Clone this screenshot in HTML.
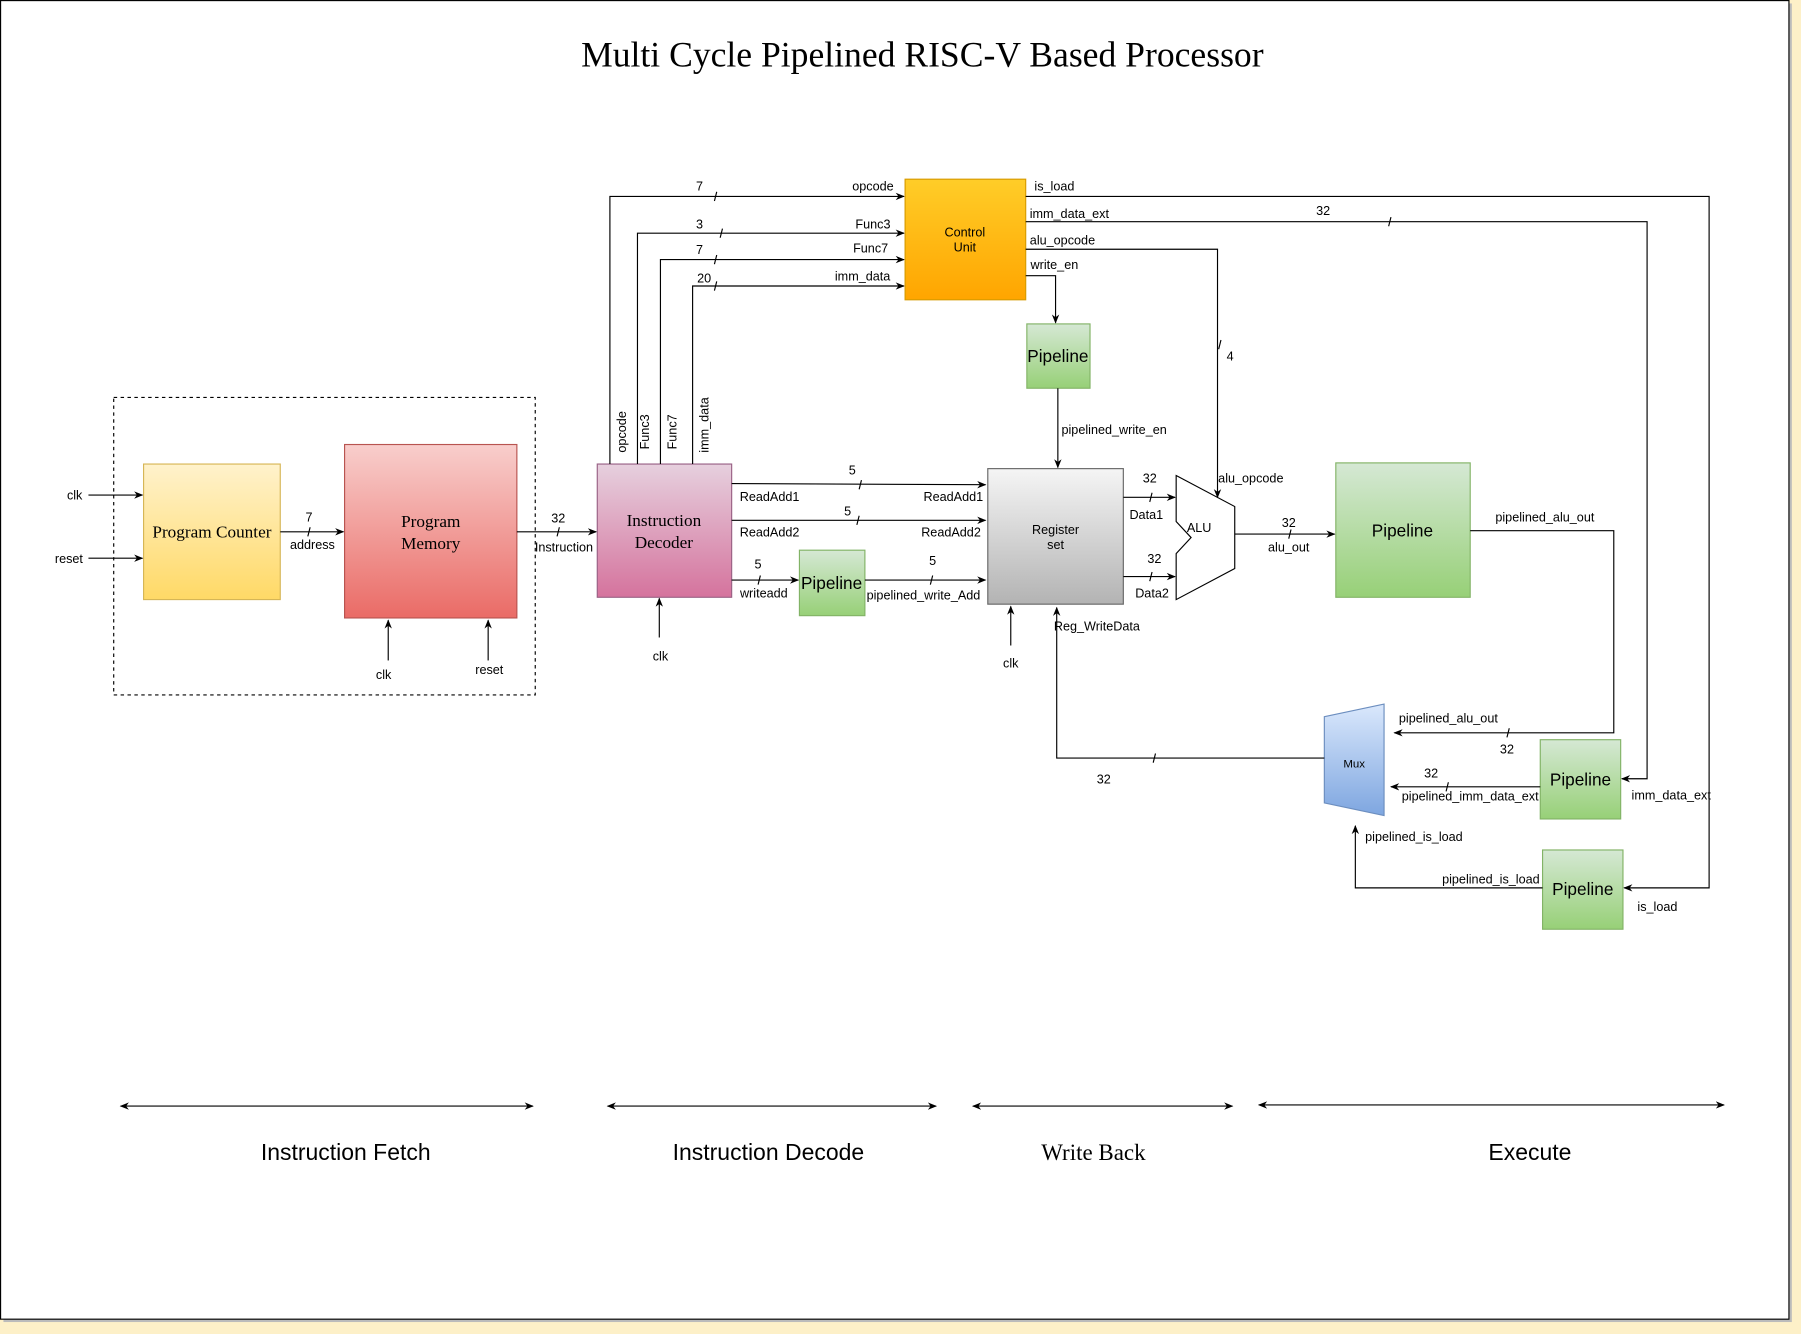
<!DOCTYPE html>
<html><head><meta charset="utf-8"><style>
html,body{margin:0;padding:0;background:#fdf0c8;}
svg{display:block;}
text{font-family:"Liberation Sans",sans-serif;font-size:11px;fill:#000;}
.s{font-family:"Liberation Serif",serif;}
</style></head><body>
<svg width="1801" height="1334" viewBox="0 0 1568 1161.4" xmlns="http://www.w3.org/2000/svg">
<defs>
<linearGradient id="gy" x1="0" y1="0" x2="0" y2="1"><stop offset="0" stop-color="#fff2cc"/><stop offset="1" stop-color="#ffd966"/></linearGradient>
<linearGradient id="gr" x1="0" y1="0" x2="0" y2="1"><stop offset="0" stop-color="#f8cecc"/><stop offset="1" stop-color="#ea6b66"/></linearGradient>
<linearGradient id="gp" x1="0" y1="0" x2="0" y2="1"><stop offset="0" stop-color="#e6d0de"/><stop offset="1" stop-color="#d5739d"/></linearGradient>
<linearGradient id="go" x1="0" y1="0" x2="0" y2="1"><stop offset="0" stop-color="#ffcd28"/><stop offset="1" stop-color="#ffa500"/></linearGradient>
<linearGradient id="gg" x1="0" y1="0" x2="0" y2="1"><stop offset="0" stop-color="#d5e8d4"/><stop offset="1" stop-color="#97d077"/></linearGradient>
<linearGradient id="gs" x1="0" y1="0" x2="0" y2="1"><stop offset="0" stop-color="#f5f5f5"/><stop offset="1" stop-color="#b3b3b3"/></linearGradient>
<linearGradient id="gb" x1="0" y1="0" x2="0" y2="1"><stop offset="0" stop-color="#dae8fc"/><stop offset="1" stop-color="#7ea6e0"/></linearGradient>
<marker id="a" viewBox="0 0 10 10" refX="9" refY="5" markerWidth="8" markerHeight="8" orient="auto-start-reverse"><path d="M0,1 L10,5 L0,9 L3,5 z" fill="#000"/></marker>
</defs>
<rect x="3" y="3" width="1557" height="1148" fill="#bbb"/>
<rect x="0.5" y="0.5" width="1557" height="1148" fill="#fff" stroke="#000" stroke-width="1"/>
<text x="803" y="58" class="s" style="font-size:31px" text-anchor="middle">Multi Cycle Pipelined RISC-V Based Processor</text>

<rect x="99" y="346" width="367" height="259" fill="none" stroke="#000" stroke-dasharray="3,3"/>
<rect x="125" y="404" width="119" height="118" fill="url(#gy)" stroke="#d6b656"/>
<text x="184.5" y="468" class="s" style="font-size:15px" text-anchor="middle">Program Counter</text>
<rect x="300" y="387" width="150" height="151" fill="url(#gr)" stroke="#b85450"/>
<text x="375" y="459" class="s" style="font-size:15px" text-anchor="middle">Program</text>
<text x="375" y="478" class="s" style="font-size:15px" text-anchor="middle">Memory</text>
<rect x="520" y="404" width="117" height="116" fill="url(#gp)" stroke="#996185"/>
<text x="578" y="458" class="s" style="font-size:15px" text-anchor="middle">Instruction</text>
<text x="578" y="477" class="s" style="font-size:15px" text-anchor="middle">Decoder</text>
<rect x="788" y="156" width="105" height="105" fill="url(#go)" stroke="#d79b00"/>
<text x="840" y="206" text-anchor="middle">Control</text>
<text x="840" y="219" text-anchor="middle">Unit</text>
<rect x="894" y="282" width="55" height="56" fill="url(#gg)" stroke="#82b366"/>
<text x="921" y="315" style="font-size:15px" text-anchor="middle">Pipeline</text>
<rect x="860" y="408" width="118" height="118" fill="url(#gs)" stroke="#666"/>
<text x="919" y="465" text-anchor="middle">Register</text>
<text x="919" y="478" text-anchor="middle">set</text>
<path d="M1024,414 L1075,441 L1075,495 L1024,522 L1024,482 L1037,468 L1024,454 Z" fill="#fff" stroke="#000"/>
<text x="1044" y="463" text-anchor="middle">ALU</text>
<rect x="1163" y="403" width="117" height="117" fill="url(#gg)" stroke="#82b366"/>
<text x="1221" y="467" style="font-size:15px" text-anchor="middle">Pipeline</text>
<rect x="696" y="479" width="57" height="57" fill="url(#gg)" stroke="#82b366"/>
<text x="724" y="513" style="font-size:15px" text-anchor="middle">Pipeline</text>
<rect x="1341" y="644" width="70" height="69" fill="url(#gg)" stroke="#82b366"/>
<text x="1376" y="684" style="font-size:15px" text-anchor="middle">Pipeline</text>
<rect x="1343" y="740" width="70" height="69" fill="url(#gg)" stroke="#82b366"/>
<text x="1378" y="779" style="font-size:15px" text-anchor="middle">Pipeline</text>
<path d="M1153,624 L1205,613 L1205,710 L1153,699 Z" fill="url(#gb)" stroke="#6c8ebf"/>
<text x="1179" y="668" style="font-size:10px" text-anchor="middle">Mux</text>

<g stroke="#000" fill="none" stroke-width="1">
<path d="M77,431 H124" marker-end="url(#a)"/>
<path d="M77,486 H124" marker-end="url(#a)"/>
<path d="M244,463 H299" marker-end="url(#a)"/>
<path d="M450,463 H519" marker-end="url(#a)"/>
<path d="M338,575 V540" marker-end="url(#a)"/>
<path d="M425,575 V540" marker-end="url(#a)"/>
<path d="M574,555 V521" marker-end="url(#a)"/>
<path d="M531,404 V171 H787" marker-end="url(#a)"/>
<path d="M555,404 V203 H787" marker-end="url(#a)"/>
<path d="M575,404 V226 H787" marker-end="url(#a)"/>
<path d="M603,404 V249 H787" marker-end="url(#a)"/>
<path d="M893,171 H1488 V773 H1414" marker-end="url(#a)"/>
<path d="M893,193 H1434 V678 H1412" marker-end="url(#a)"/>
<path d="M893,217 H1060 V433" marker-end="url(#a)"/>
<path d="M893,240 H919 V281" marker-end="url(#a)"/>
<path d="M921,338 V407" marker-end="url(#a)"/>
<path d="M637,421 L858,422" marker-end="url(#a)"/>
<path d="M637,453 H858" marker-end="url(#a)"/>
<path d="M637,505 H695" marker-end="url(#a)"/>
<path d="M753,505 H858" marker-end="url(#a)"/>
<path d="M880,562 V528" marker-end="url(#a)"/>
<path d="M978,433 H1023" marker-end="url(#a)"/>
<path d="M978,502 H1023" marker-end="url(#a)"/>
<path d="M1075,465 H1162" marker-end="url(#a)"/>
<path d="M1280,462 H1405 V638 H1214" marker-end="url(#a)"/>
<path d="M1341,685 H1211" marker-end="url(#a)"/>
<path d="M1343,773 H1180 V719" marker-end="url(#a)"/>
<path d="M1153,660 H920 V529" marker-end="url(#a)"/>
<path d="M105,963 H464" marker-start="url(#a)" marker-end="url(#a)"/>
<path d="M529,963 H815" marker-start="url(#a)" marker-end="url(#a)"/>
<path d="M847,963 H1073" marker-start="url(#a)" marker-end="url(#a)"/>
<path d="M1096,962 H1501" marker-start="url(#a)" marker-end="url(#a)"/>
<path d="M268,467 L270,459 M485,467 L487,459 M622,175 L624,167 M627,207 L629,199 M622,230 L624,222 M622,253 L624,245 M1209,197 L1211,189 M1061,304 L1063,296 M748,426 L750,418 M746,457 L748,449 M810,509 L812,501 M1001,437 L1003,429 M1001,506 L1003,498 M1122,469 L1124,461 M1312,642 L1314,634 M1259,689 L1261,681 M1004,664 L1006,656 M660,509 L662,501"/>
</g>

<text x="65" y="435" text-anchor="middle">clk</text>
<text x="60" y="490" text-anchor="middle">reset</text>
<text x="269" y="454" text-anchor="middle">7</text>
<text x="272" y="478" text-anchor="middle">address</text>
<text x="486" y="455" text-anchor="middle">32</text>
<text x="491" y="480" text-anchor="middle">Instruction</text>
<text x="334" y="591" text-anchor="middle">clk</text>
<text x="426" y="587" text-anchor="middle">reset</text>
<text x="575" y="575" text-anchor="middle">clk</text>
<text x="760" y="166" text-anchor="middle">opcode</text>
<text x="609" y="166" text-anchor="middle">7</text>
<text x="760" y="199" text-anchor="middle">Func3</text>
<text x="609" y="199" text-anchor="middle">3</text>
<text x="758" y="220" text-anchor="middle">Func7</text>
<text x="609" y="221" text-anchor="middle">7</text>
<text x="751" y="244" text-anchor="middle">imm_data</text>
<text x="613" y="246" text-anchor="middle">20</text>
<text transform="translate(545,376) rotate(-90)" text-anchor="middle">opcode</text>
<text transform="translate(565,376) rotate(-90)" text-anchor="middle">Func3</text>
<text transform="translate(589,376) rotate(-90)" text-anchor="middle">Func7</text>
<text transform="translate(617,370) rotate(-90)" text-anchor="middle">imm_data</text>
<text x="918" y="166" text-anchor="middle">is_load</text>
<text x="931" y="190" text-anchor="middle">imm_data_ext</text>
<text x="1152" y="187" text-anchor="middle">32</text>
<text x="925" y="213" text-anchor="middle">alu_opcode</text>
<text x="918" y="234" text-anchor="middle">write_en</text>
<text x="1071" y="314" text-anchor="middle">4</text>
<text x="1089" y="420" text-anchor="middle">alu_opcode</text>
<text x="970" y="378" text-anchor="middle">pipelined_write_en</text>
<text x="742" y="413" text-anchor="middle">5</text>
<text x="670" y="436" text-anchor="middle">ReadAdd1</text>
<text x="830" y="436" text-anchor="middle">ReadAdd1</text>
<text x="738" y="449" text-anchor="middle">5</text>
<text x="670" y="467" text-anchor="middle">ReadAdd2</text>
<text x="828" y="467" text-anchor="middle">ReadAdd2</text>
<text x="660" y="495" text-anchor="middle">5</text>
<text x="665" y="520" text-anchor="middle">writeadd</text>
<text x="812" y="492" text-anchor="middle">5</text>
<text x="804" y="522" text-anchor="middle">pipelined_write_Add</text>
<text x="880" y="581" text-anchor="middle">clk</text>
<text x="1001" y="420" text-anchor="middle">32</text>
<text x="998" y="452" text-anchor="middle">Data1</text>
<text x="1005" y="490" text-anchor="middle">32</text>
<text x="1003" y="520" text-anchor="middle">Data2</text>
<text x="1122" y="459" text-anchor="middle">32</text>
<text x="1122" y="480" text-anchor="middle">alu_out</text>
<text x="1345" y="454" text-anchor="middle">pipelined_alu_out</text>
<text x="1261" y="629" text-anchor="middle">pipelined_alu_out</text>
<text x="1312" y="656" text-anchor="middle">32</text>
<text x="1246" y="677" text-anchor="middle">32</text>
<text x="1280" y="697" text-anchor="middle">pipelined_imm_data_ext</text>
<text x="1455" y="696" text-anchor="middle">imm_data_ext</text>
<text x="1298" y="769" text-anchor="middle">pipelined_is_load</text>
<text x="1231" y="732" text-anchor="middle">pipelined_is_load</text>
<text x="1443" y="793" text-anchor="middle">is_load</text>
<text x="961" y="682" text-anchor="middle">32</text>
<text x="955" y="549" text-anchor="middle">Reg_WriteData</text>
<text x="301" y="1010" style="font-size:20px" text-anchor="middle">Instruction Fetch</text>
<text x="669" y="1010" style="font-size:20px" text-anchor="middle">Instruction Decode</text>
<text x="952" y="1010" class="s" style="font-size:20px" text-anchor="middle">Write Back</text>
<text x="1332" y="1010" style="font-size:20px" text-anchor="middle">Execute</text>
</svg>
</body></html>
